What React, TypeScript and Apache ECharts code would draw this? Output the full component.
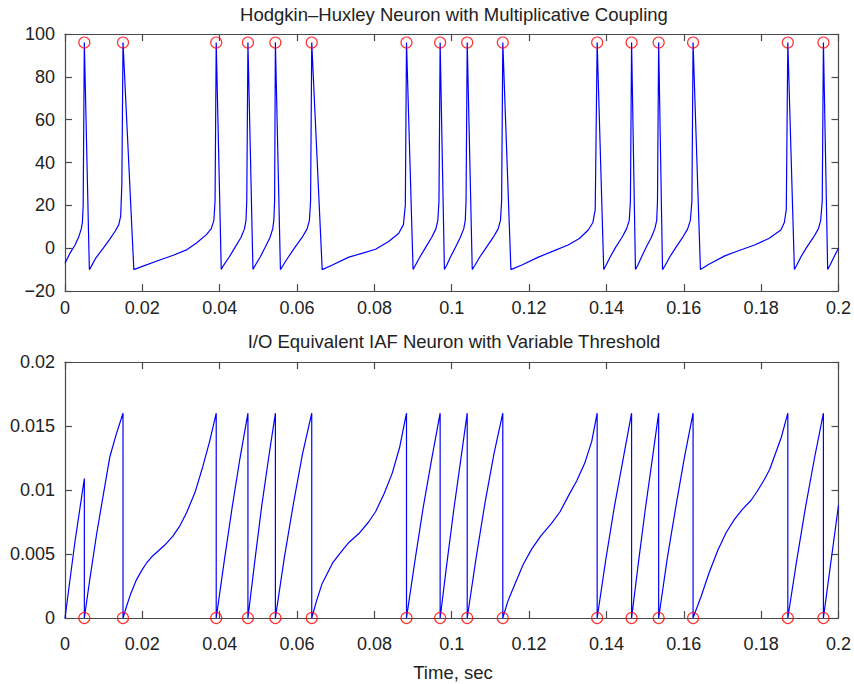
import React, { useEffect, useRef } from "react";
import * as echarts from "echarts";

// Spike times (sec) read from the red circles
const spikeTimes = [
  0.005, 0.015, 0.0391, 0.0473, 0.0544, 0.0638, 0.0883, 0.097, 0.104, 0.1132,
  0.1376, 0.1465, 0.1535, 0.1624, 0.1869, 0.1961,
];
const hhPeakLevel = 96;
const iafResetLevel = 0;

// Hodgkin-Huxley membrane voltage trace [time, value]
const hhTrace: [number, number][] = [
  [0, -7], [0.0013, -2.3], [0.0026, 1.5], [0.0036, 5.5], [0.0042, 9], [0.0045, 12], [0.0047, 20], [0.005, 96], [0.0063, -10],
  [0.0068, -8.5], [0.008, -4.5], [0.0099, 0], [0.0115, 4], [0.013, 8], [0.0139, 11], [0.0144, 15], [0.0147, 30], [0.015, 96], [0.0178, -10],
  [0.02, -8.5], [0.0245, -5.5], [0.028, -3.3], [0.0314, -0.8], [0.034, 2.4], [0.0365, 6.2], [0.0378, 9], [0.0385, 13], [0.0388, 22], [0.0391, 96], [0.0404, -10],
  [0.041, -8], [0.0425, -4], [0.044, 0.5], [0.0455, 5], [0.0464, 9], [0.0468, 13], [0.047, 22], [0.0473, 96], [0.0486, -10],
  [0.0492, -8], [0.0505, -4], [0.0518, 0.5], [0.053, 5], [0.0537, 9], [0.054, 13], [0.0542, 22], [0.0544, 96], [0.0557, -10],
  [0.0564, -8], [0.0578, -4], [0.0595, 0.5], [0.0613, 5], [0.0626, 9], [0.0632, 13], [0.0635, 22], [0.0638, 96], [0.0665, -10],
  [0.069, -8], [0.0734, -4.2], [0.077, -2.3], [0.0803, -0.5], [0.0837, 3.1], [0.0863, 7], [0.0875, 11], [0.088, 20], [0.0883, 96], [0.09, -10],
  [0.0906, -8], [0.0918, -4], [0.0933, 0.5], [0.0948, 5], [0.0959, 9], [0.0964, 13], [0.0967, 22], [0.097, 96], [0.0981, -10],
  [0.0987, -8], [0.0997, -4], [0.101, 0.5], [0.1022, 5], [0.1031, 9], [0.1035, 13], [0.1037, 22], [0.104, 96], [0.1053, -10],
  [0.106, -8], [0.1073, -4], [0.109, 0.5], [0.1107, 5], [0.112, 9], [0.1126, 13], [0.1129, 22], [0.1132, 96], [0.1153, -10],
  [0.118, -8], [0.1224, -4.2], [0.1262, -1.4], [0.1301, 1.5], [0.133, 4.5], [0.1353, 8.5], [0.1365, 12], [0.1371, 18], [0.1376, 96], [0.1393, -10],
  [0.1399, -8], [0.141, -4], [0.1424, 0.5], [0.144, 5], [0.1452, 9], [0.1459, 13], [0.1462, 22], [0.1465, 96], [0.1475, -10],
  [0.1481, -8], [0.1491, -4], [0.1503, 0.5], [0.1516, 5], [0.1525, 9], [0.153, 13], [0.1532, 22], [0.1535, 96], [0.1545, -10],
  [0.1552, -8], [0.1564, -4], [0.158, 0.5], [0.1597, 5], [0.161, 9], [0.1617, 13], [0.1621, 22], [0.1624, 96], [0.1643, -10],
  [0.1665, -7.5], [0.1706, -3.6], [0.1745, -1], [0.1783, 1.5], [0.182, 4.5], [0.1851, 8.5], [0.186, 12], [0.1865, 18], [0.1869, 96], [0.1886, -10],
  [0.1892, -8], [0.1903, -4], [0.1918, 0.5], [0.1935, 5], [0.1948, 9], [0.1954, 13], [0.1958, 22], [0.1961, 96], [0.1972, -10],
  [0.1978, -8], [0.199, -3.5], [0.2, 0],
];

// I/O equivalent IAF integrator trace [time, value]
const iafTrace: [number, number][] = [
  [0, 0], [0.0025, 0.0058], [0.005, 0.0109], [0.005, 0],
  [0.0065, 0.0032], [0.0082, 0.0066], [0.01, 0.0098], [0.0116, 0.0126], [0.0133, 0.0144], [0.015, 0.016], [0.015, 0],
  [0.0155, 0.0005], [0.0159, 0.0009], [0.017, 0.0019], [0.0185, 0.003], [0.02, 0.0038], [0.0211, 0.0043], [0.0225, 0.0048],
  [0.0236, 0.0051], [0.0258, 0.0057], [0.0279, 0.0064], [0.0297, 0.0072], [0.0314, 0.0082], [0.0336, 0.0098], [0.0356, 0.0118],
  [0.0374, 0.0138], [0.0391, 0.016], [0.0391, 0],
  [0.0412, 0.0045], [0.0432, 0.0086], [0.0452, 0.0124], [0.0473, 0.016], [0.0473, 0],
  [0.0491, 0.0045], [0.0508, 0.0086], [0.0526, 0.0124], [0.0544, 0.016], [0.0544, 0],
  [0.0567, 0.0047], [0.0591, 0.009], [0.0614, 0.0128], [0.0638, 0.016], [0.0638, 0],
  [0.065, 0.0013], [0.0665, 0.0027], [0.0692, 0.0043], [0.0715, 0.0052], [0.0734, 0.0059], [0.076, 0.0066], [0.0785, 0.0075],
  [0.0803, 0.0083], [0.0825, 0.0097], [0.0846, 0.0113], [0.0865, 0.0133], [0.0883, 0.016], [0.0883, 0],
  [0.0905, 0.0045], [0.0926, 0.0086], [0.0948, 0.0124], [0.097, 0.016], [0.097, 0],
  [0.0988, 0.0044], [0.1005, 0.0084], [0.1023, 0.0123], [0.104, 0.016], [0.104, 0],
  [0.1063, 0.0047], [0.1086, 0.009], [0.1109, 0.0128], [0.1132, 0.016], [0.1132, 0],
  [0.1145, 0.0013], [0.1164, 0.0027], [0.1185, 0.0042], [0.1207, 0.0054], [0.123, 0.0064], [0.1258, 0.0074], [0.128, 0.0083],
  [0.1301, 0.0095], [0.1323, 0.0107], [0.1344, 0.0121], [0.1362, 0.0138], [0.1376, 0.016], [0.1376, 0],
  [0.1398, 0.0045], [0.142, 0.0086], [0.1443, 0.0124], [0.1465, 0.016], [0.1465, 0],
  [0.1483, 0.0044], [0.15, 0.0084], [0.1518, 0.0123], [0.1535, 0.016], [0.1535, 0],
  [0.1557, 0.0046], [0.158, 0.0088], [0.1602, 0.0126], [0.1624, 0.016], [0.1624, 0],
  [0.1635, 0.0009], [0.1645, 0.0017], [0.1665, 0.0035], [0.1688, 0.0053], [0.171, 0.0067], [0.1731, 0.0077], [0.1752, 0.0085],
  [0.1774, 0.0092], [0.179, 0.0099], [0.1808, 0.0108], [0.1822, 0.0116], [0.1834, 0.0126], [0.1852, 0.0141], [0.1869, 0.016], [0.1869, 0],
  [0.1892, 0.0045], [0.1915, 0.0087], [0.1938, 0.0125], [0.1961, 0.016], [0.1961, 0],
  [0.198, 0.0043], [0.2, 0.0088],
];

const FONT = "'Liberation Sans', Arial, Helvetica, sans-serif";
const AXIS_COLOR = "#4a4a4a";
const TEXT_COLOR = "#222";
const BLUE = "#0000ff";
const RED = "#ff0000";

const fmt = (v: number) => {
  const s = String(parseFloat(Number(v).toFixed(4)));
  return s.startsWith("-") ? "\u2212" + s.slice(1) : s;
};

export default function App() {
  const ref = useRef<HTMLDivElement>(null);
  useEffect(() => {
    if (!ref.current) return;
    const chart = echarts.init(ref.current, undefined, { renderer: "svg" });
    const axisLine = { show: true, onZero: false, lineStyle: { color: AXIS_COLOR, width: 1.2 } };
    const tickIn = { show: true, inside: true, length: 7, lineStyle: { color: AXIS_COLOR, width: 1.2 } };
    const label = { show: true, color: TEXT_COLOR, fontSize: 18, fontFamily: FONT, formatter: fmt };
    const xBase = (gridIndex: number, position: string, showLabel: boolean, margin: number) => ({
      type: "value",
      gridIndex,
      position,
      min: 0,
      max: 0.2,
      interval: 0.02,
      axisLine,
      axisTick: tickIn,
      axisLabel: showLabel ? { ...label, margin } : { show: false },
      splitLine: { show: false },
    });
    const yBase = (gridIndex: number, position: string, showLabel: boolean, min: number, max: number, interval: number) => ({
      type: "value",
      gridIndex,
      position,
      min,
      max,
      interval,
      axisLine,
      axisTick: tickIn,
      axisLabel: showLabel ? { ...label, margin: 10 } : { show: false },
      splitLine: { show: false },
    });
    chart.setOption({
      animation: false,
      backgroundColor: "#ffffff",
      grid: [
        { left: 65, top: 34, width: 776, height: 257 },
        { left: 65, top: 362, width: 776, height: 256 },
      ],
      xAxis: [
        xBase(0, "bottom", true, 8),
        xBase(0, "top", false, 0),
        xBase(1, "bottom", true, 17),
        xBase(1, "top", false, 0),
      ],
      yAxis: [
        yBase(0, "left", true, -20, 100, 20),
        yBase(0, "right", false, -20, 100, 20),
        yBase(1, "left", true, 0, 0.02, 0.005),
        yBase(1, "right", false, 0, 0.02, 0.005),
      ],
      graphic: [
        {
          type: "text",
          x: 454,
          y: 14,
          style: { text: "Hodgkin\u2013Huxley Neuron with Multiplicative Coupling", font: `18.5px ${FONT}`, fill: TEXT_COLOR, align: "center", verticalAlign: "middle" },
        },
        {
          type: "text",
          x: 454,
          y: 341,
          style: { text: "I/O Equivalent IAF Neuron with Variable Threshold", font: `18.5px ${FONT}`, fill: TEXT_COLOR, align: "center", verticalAlign: "middle" },
        },
        {
          type: "text",
          x: 453,
          y: 672,
          style: { text: "Time, sec", font: `18.5px ${FONT}`, fill: TEXT_COLOR, align: "center", verticalAlign: "middle" },
        },
      ],
      series: [
        {
          type: "line",
          xAxisIndex: 0,
          yAxisIndex: 0,
          data: hhTrace,
          showSymbol: false,
          symbol: "none",
          lineStyle: { color: BLUE, width: 1.2 },
          z: 2,
        },
        {
          type: "scatter",
          xAxisIndex: 0,
          yAxisIndex: 0,
          data: spikeTimes.map((t) => [t, hhPeakLevel]),
          symbol: "circle",
          symbolSize: 11,
          clip: false,
          itemStyle: { color: "rgba(0,0,0,0)", borderColor: RED, borderWidth: 1.2 },
          z: 3,
        },
        {
          type: "line",
          xAxisIndex: 2,
          yAxisIndex: 2,
          data: iafTrace,
          showSymbol: false,
          symbol: "none",
          lineStyle: { color: BLUE, width: 1.2 },
          z: 2,
        },
        {
          type: "scatter",
          xAxisIndex: 2,
          yAxisIndex: 2,
          data: spikeTimes.map((t) => [t, iafResetLevel]),
          symbol: "circle",
          symbolSize: 11,
          clip: false,
          itemStyle: { color: "rgba(0,0,0,0)", borderColor: RED, borderWidth: 1.2 },
          z: 3,
        },
      ],
    });
    return () => chart.dispose();
  }, []);
  return (
    <div
      ref={ref}
      style={{ position: "fixed", left: 0, top: 0, width: 854, height: 684, background: "#fff" }}
    />
  );
}
